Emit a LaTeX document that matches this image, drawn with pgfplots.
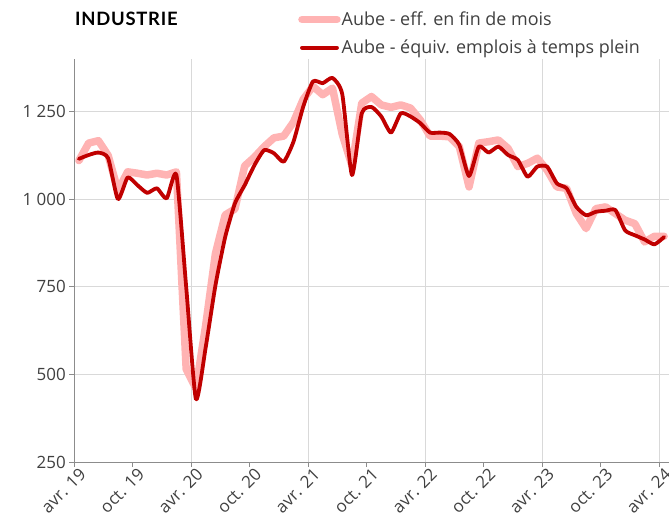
\documentclass[border=0pt]{standalone}
\usepackage{fontspec}
\setmainfont{Open Sans}
\newfontfamily\titlefont[LetterSpace=4]{Lato}
\usepackage{pgfplots}
\usepackage{pgfplotstable}
\pgfplotsset{compat=1.18}
\definecolor{pinkl}{HTML}{FFB3B3}
\definecolor{darkr}{HTML}{C00000}
\definecolor{gridc}{HTML}{D9D9D9}
\definecolor{axc}{HTML}{8C8C8C}
\definecolor{txt}{HTML}{404040}

\pgfplotstableread{
m v
0 1110
1 1160
2 1167
3 1125
4 1025
5 1078
6 1074
7 1069
8 1074
9 1069
10 1078
11 515
12 460
13 640
14 845
15 955
16 972
17 1095
18 1120
19 1150
20 1175
21 1180
22 1220
23 1285
24 1322
25 1298
26 1317
27 1185
28 1095
29 1274
30 1293
31 1269
32 1262
33 1269
34 1260
35 1226
36 1180
37 1180
38 1178
39 1150
40 1035
41 1160
42 1164
43 1169
44 1145
45 1093
46 1102
47 1117
48 1083
49 1035
50 1031
51 959
52 916
53 973
54 978
55 959
56 940
57 930
58 878
59 894
60 894
}\eff

\pgfplotstableread{
m v
0 1115
1 1126
2 1133
3 1117
4 1000
5 1062
6 1040
7 1018
8 1031
9 1002
10 1069
11 750
12 429
13 577
14 754
15 892
16 988
17 1040
18 1097
19 1140
20 1131
21 1107
22 1164
23 1264
24 1336
25 1331
26 1346
27 1300
28 1069
29 1245
30 1263
31 1236
32 1190
33 1245
34 1236
35 1217
36 1190
37 1190
38 1186
39 1155
40 1066
41 1150
42 1133
43 1150
44 1126
45 1112
46 1064
47 1093
48 1093
49 1045
50 1031
51 978
52 954
53 964
54 967
55 969
56 911
57 897
58 885
59 871
60 892
}\etp

\begin{document}
\begin{tikzpicture}
\useasboundingbox (0,0) rectangle (669bp,528bp);
\begin{axis}[
  at={(74bp,66bp)}, anchor=south west,
  scale only axis, width=595bp, height=403bp,
  xmin=0, xmax=61, ymin=250, ymax=1400,
  axis x line*=bottom, axis y line*=left,
  axis line style={axc, line width=0.8bp, -},
  tick align=outside, major tick length=5bp,
  tick style={axc, line width=0.8bp},
  xtick={0,6,...,60},
  xticklabels={avr. 19,oct. 19,avr. 20,oct. 20,avr. 21,oct. 21,avr. 22,oct. 22,avr. 23,oct. 23,avr. 24},
  extra x ticks={12,24,36,48,60},
  extra x tick labels={},
  extra x tick style={grid=major, major tick length=0pt},
  ytick={250,500,750,1000,1250},
  yticklabels={250,500,750,1 000,1 250},
  ymajorgrids,
  grid style={gridc, line width=0.8bp},
  ticklabel style={font=\fontsize{17}{20}\selectfont, text=txt},
  xticklabel style={rotate=45, anchor=north east, inner sep=1bp, xshift=4bp, yshift=-2bp},
  yticklabel style={inner sep=3bp},
  legend style={at={(0.3765,1.12)}, anchor=north west, draw=none, fill=none,
     font=\fontsize{18}{21}\selectfont, text=txt, row sep=11bp, inner sep=0pt,
     nodes={inner sep=1bp},
     /tikz/every even column/.append style={column sep=0bp}},
  legend cell align=left,
  legend image code/.code={\draw[#1] (0bp,0bp) -- (35bp,0bp);},
  clip=false,
]
\addplot[pinkl, line width=7.5bp, line join=round, line cap=round] table[x expr=\thisrow{m}+0.5, y=v] {\eff};
\addlegendentry{Aube - eff. en fin de mois}
\addplot[darkr, line width=3.8bp, line join=round, line cap=round, smooth, tension=0.35] table[x expr=\thisrow{m}+0.5, y=v] {\etp};
\addlegendentry{Aube - équiv. emplois à temps plein}
\end{axis}
\node[anchor=west, font=\titlefont\bfseries\fontsize{18.5}{21}\selectfont, inner sep=0pt] at (75bp,509bp) {INDUSTRIE};
\end{tikzpicture}
\end{document}
